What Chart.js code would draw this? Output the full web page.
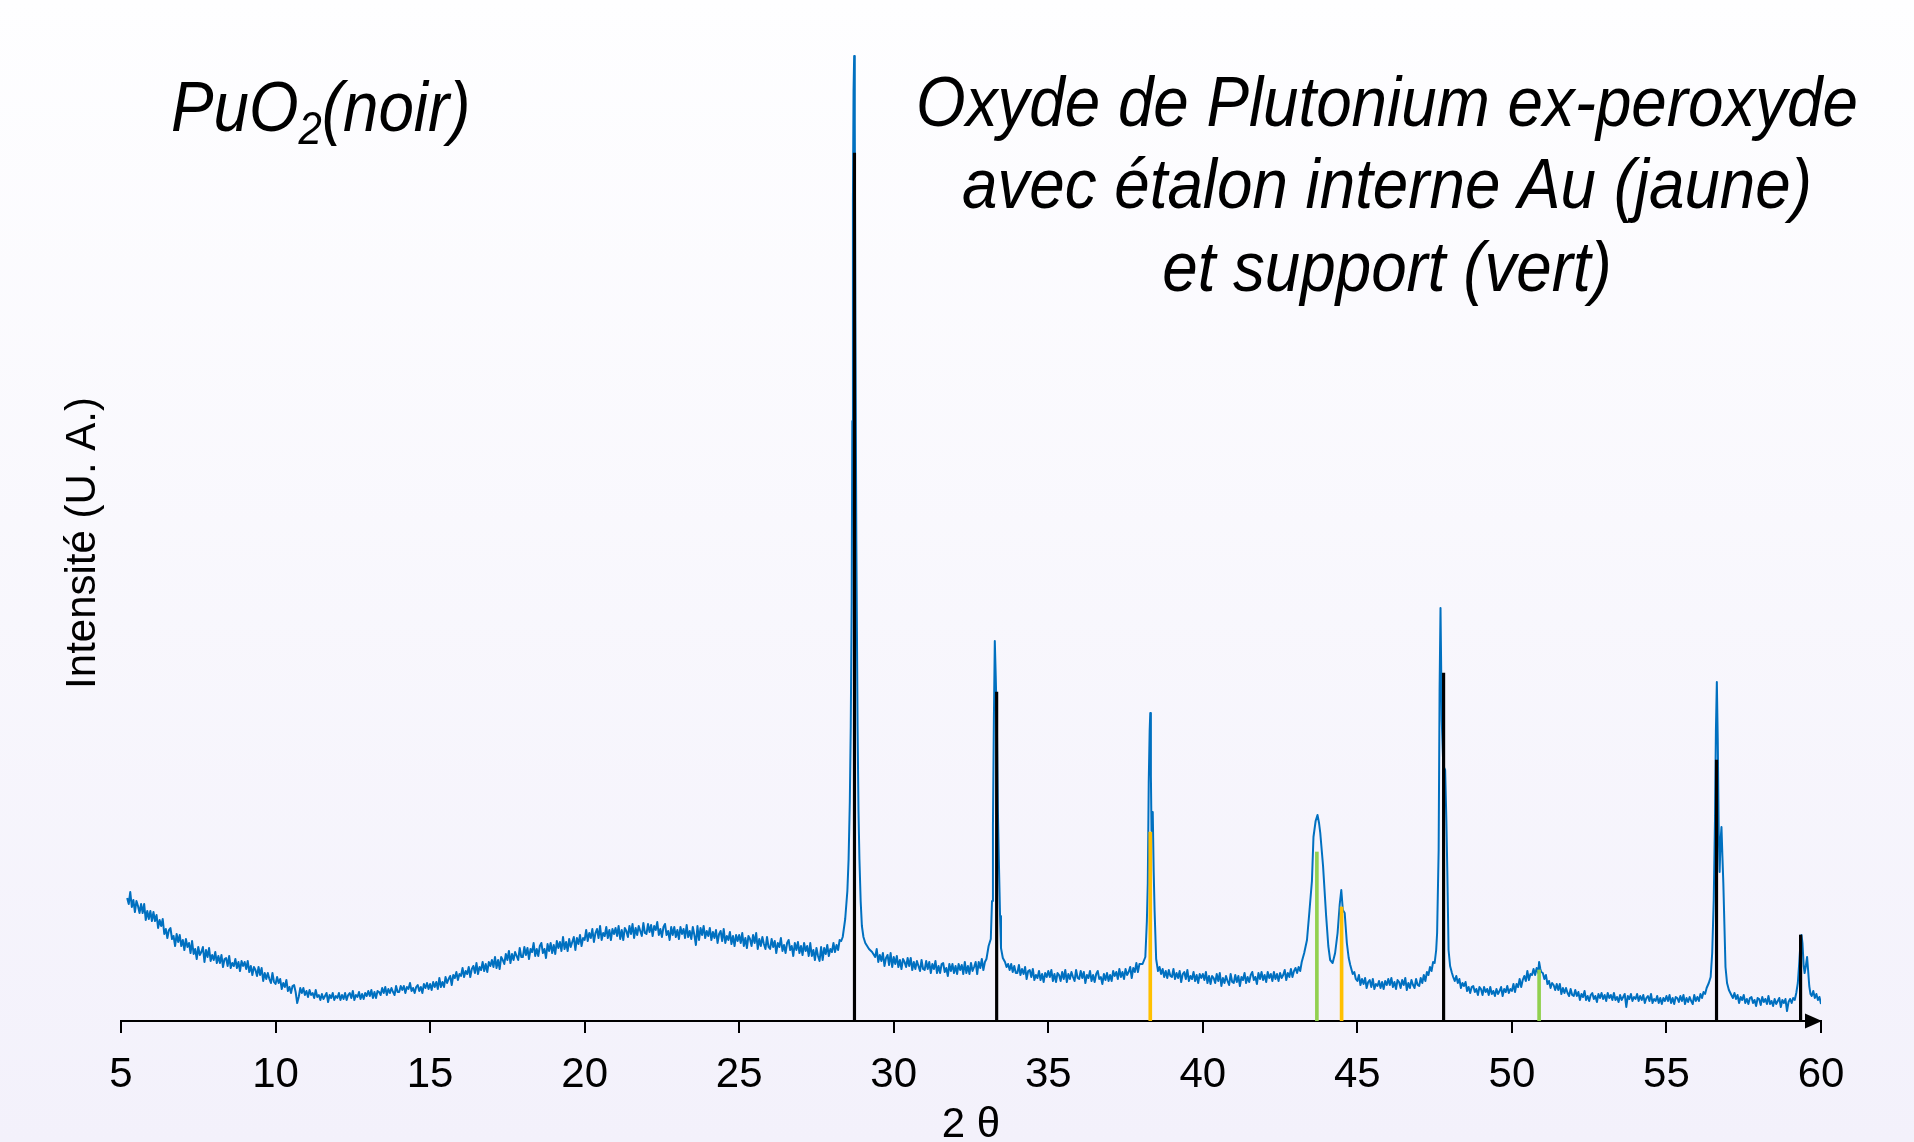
<!DOCTYPE html>
<html lang="fr">
<head>
<meta charset="utf-8">
<title>DRX PuO2 ex-peroxyde</title>
<script src="https://cdn.jsdelivr.net/npm/chart.js@4.4.1/dist/chart.umd.min.js"></script>
<style>
html,body{margin:0;padding:0;width:1914px;height:1142px;overflow:hidden;}
body{background:linear-gradient(to bottom,#fefeff 0%,#f3f1fb 100%);}
canvas{display:block;}
</style>
</head>
<body>
<canvas id="drx" width="1914" height="1160"></canvas>
<script>
// 2 theta (degres)
const angle2theta=[
5.2,5.25,5.3,5.35,5.4,5.45,5.5,5.55,5.6,5.65,5.7,5.75,5.8,5.85,5.9,5.95,
6,6.05,6.1,6.15,6.2,6.25,6.3,6.35,6.4,6.45,6.5,6.55,6.6,6.65,6.7,6.75,6.8,6.85,6.9,6.95,
7,7.05,7.1,7.15,7.2,7.25,7.3,7.35,7.4,7.45,7.5,7.55,7.6,7.65,7.7,7.75,7.8,7.85,7.9,7.95,
8,8.05,8.1,8.15,8.2,8.25,8.3,8.35,8.4,8.45,8.5,8.55,8.6,8.65,8.7,8.75,8.8,8.85,8.9,8.95,
9,9.05,9.1,9.15,9.2,9.25,9.3,9.35,9.4,9.45,9.5,9.55,9.6,9.65,9.7,9.75,9.8,9.85,9.9,9.95,
10,10.05,10.1,10.15,10.2,10.25,10.3,10.35,10.4,10.45,10.5,10.55,10.6,10.65,10.7,10.75,10.8,10.85,10.9,10.95,
11,11.05,11.1,11.15,11.2,11.25,11.3,11.35,11.4,11.45,11.5,11.55,11.6,11.65,11.7,11.75,11.8,11.85,11.9,11.95,
12,12.05,12.1,12.15,12.2,12.25,12.3,12.35,12.4,12.45,12.5,12.55,12.6,12.65,12.7,12.75,12.8,12.85,12.9,12.95,
13,13.05,13.1,13.15,13.2,13.25,13.3,13.35,13.4,13.45,13.5,13.55,13.6,13.65,13.7,13.75,13.8,13.85,13.9,13.95,
14,14.05,14.1,14.15,14.2,14.25,14.3,14.35,14.4,14.45,14.5,14.55,14.6,14.65,14.7,14.75,14.8,14.85,14.9,14.95,
15,15.05,15.1,15.15,15.2,15.25,15.3,15.35,15.4,15.45,15.5,15.55,15.6,15.65,15.7,15.75,15.8,15.85,15.9,15.95,
16,16.05,16.1,16.15,16.2,16.25,16.3,16.35,16.4,16.45,16.5,16.55,16.6,16.65,16.7,16.75,16.8,16.85,16.9,16.95,
17,17.05,17.1,17.15,17.2,17.25,17.3,17.35,17.4,17.45,17.5,17.55,17.6,17.65,17.7,17.75,17.8,17.85,17.9,17.95,
18,18.05,18.1,18.15,18.2,18.25,18.3,18.35,18.4,18.45,18.5,18.55,18.6,18.65,18.7,18.75,18.8,18.85,18.9,18.95,
19,19.05,19.1,19.15,19.2,19.25,19.3,19.35,19.4,19.45,19.5,19.55,19.6,19.65,19.7,19.75,19.8,19.85,19.9,19.95,
20,20.05,20.1,20.15,20.2,20.25,20.3,20.35,20.4,20.45,20.5,20.55,20.6,20.65,20.7,20.75,20.8,20.85,20.9,20.95,
21,21.05,21.1,21.15,21.2,21.25,21.3,21.35,21.4,21.45,21.5,21.55,21.6,21.65,21.7,21.75,21.8,21.85,21.9,21.95,
22,22.05,22.1,22.15,22.2,22.25,22.3,22.35,22.4,22.45,22.5,22.55,22.6,22.65,22.7,22.75,22.8,22.85,22.9,22.95,
23,23.05,23.1,23.15,23.2,23.25,23.3,23.35,23.4,23.45,23.5,23.55,23.6,23.65,23.7,23.75,23.8,23.85,23.9,23.95,
24,24.05,24.1,24.15,24.2,24.25,24.3,24.35,24.4,24.45,24.5,24.55,24.6,24.65,24.7,24.75,24.8,24.85,24.9,24.95,
25,25.05,25.1,25.15,25.2,25.25,25.3,25.35,25.4,25.45,25.5,25.55,25.6,25.65,25.7,25.75,25.8,25.85,25.9,25.95,
26,26.05,26.1,26.15,26.2,26.25,26.3,26.35,26.4,26.45,26.5,26.55,26.6,26.65,26.7,26.75,26.8,26.85,26.9,26.95,
27,27.05,27.1,27.15,27.2,27.25,27.3,27.35,27.4,27.45,27.5,27.55,27.6,27.65,27.7,27.75,27.8,27.85,27.9,27.95,
28,28.05,28.1,28.15,28.2,28.25,28.3,28.35,28.43,28.5,28.54,28.58,28.61,28.64,28.66,28.68,28.7,28.72,28.74,28.76,28.79,28.83,28.86,28.89,28.93,28.97,
29.02,29.08,29.14,29.2,29.3,29.4,29.45,29.5,29.55,29.6,29.65,29.7,29.75,29.8,29.85,29.9,29.95,
30,30.05,30.1,30.15,30.2,30.25,30.3,30.35,30.4,30.45,30.5,30.55,30.6,30.65,30.7,30.75,30.8,30.85,30.9,30.95,
31,31.05,31.1,31.15,31.2,31.25,31.3,31.35,31.4,31.45,31.5,31.55,31.6,31.65,31.7,31.75,31.8,31.85,31.9,31.95,
32,32.05,32.1,32.15,32.2,32.25,32.3,32.35,32.4,32.45,32.5,32.55,32.6,32.65,32.7,32.75,32.8,32.85,32.9,32.95,
33,33.07,33.14,33.18,33.21,33.24,33.27,33.3,33.34,33.37,33.4,33.44,33.47,33.53,33.6,33.65,33.7,33.75,33.8,33.85,33.9,33.95,
34,34.05,34.1,34.15,34.2,34.25,34.3,34.35,34.4,34.45,34.5,34.55,34.6,34.65,34.7,34.75,34.8,34.85,34.9,34.95,
35,35.05,35.1,35.15,35.2,35.25,35.3,35.35,35.4,35.45,35.5,35.55,35.6,35.65,35.7,35.75,35.8,35.85,35.9,35.95,
36,36.05,36.1,36.15,36.2,36.25,36.3,36.35,36.4,36.45,36.5,36.55,36.6,36.65,36.7,36.75,36.8,36.85,36.9,36.95,
37,37.05,37.1,37.15,37.2,37.25,37.3,37.35,37.4,37.45,37.5,37.55,37.6,37.65,37.7,37.75,37.8,37.85,37.9,37.95,
38.05,38.14,38.19,38.22,38.25,38.28,38.3,38.32,38.34,38.36,38.38,38.41,38.44,38.49,38.55,38.6,38.65,38.7,38.75,38.8,38.85,38.9,38.95,
39,39.05,39.1,39.15,39.2,39.25,39.3,39.35,39.4,39.45,39.5,39.55,39.6,39.65,39.7,39.75,39.8,39.85,39.9,39.95,
40,40.05,40.1,40.15,40.2,40.25,40.3,40.35,40.4,40.45,40.5,40.55,40.6,40.65,40.7,40.75,40.8,40.85,40.9,40.95,
41,41.05,41.1,41.15,41.2,41.25,41.3,41.35,41.4,41.45,41.5,41.55,41.6,41.65,41.7,41.75,41.8,41.85,41.9,41.95,
42,42.05,42.1,42.15,42.2,42.25,42.3,42.35,42.4,42.45,42.5,42.55,42.6,42.65,42.7,42.75,42.8,42.85,42.9,42.95,
43,43.05,43.1,43.15,43.2,43.28,43.37,43.45,43.53,43.58,43.65,43.71,43.76,43.8,43.89,43.99,
44.06,44.12,44.2,44.28,44.36,44.43,44.48,44.53,44.59,44.66,44.72,44.77,44.85,44.9,44.95,
45,45.05,45.1,45.15,45.2,45.25,45.3,45.35,45.4,45.45,45.5,45.55,45.6,45.65,45.7,45.75,45.8,45.85,45.9,45.95,
46,46.05,46.1,46.15,46.2,46.25,46.3,46.35,46.4,46.45,46.5,46.55,46.6,46.65,46.7,46.75,46.8,46.85,46.9,46.95,
47,47.05,47.1,47.15,47.2,47.25,47.3,47.35,47.4,47.45,47.5,47.55,47.58,47.63,47.66,47.69,47.73,47.78,47.84,47.88,47.91,47.95,
48,48.06,48.1,48.15,48.2,48.25,48.3,48.35,48.4,48.45,48.5,48.55,48.6,48.65,48.7,48.75,48.8,48.85,48.9,48.95,
49,49.05,49.1,49.15,49.2,49.25,49.3,49.35,49.4,49.45,49.5,49.55,49.6,49.65,49.7,49.75,49.8,49.85,49.9,49.95,
50,50.05,50.1,50.15,50.2,50.25,50.3,50.35,50.4,50.45,50.5,50.55,50.6,50.65,50.7,50.75,50.8,50.85,50.88,50.92,50.95,
51,51.05,51.1,51.15,51.2,51.25,51.3,51.35,51.4,51.45,51.5,51.55,51.6,51.65,51.7,51.75,51.8,51.85,51.9,51.95,
52,52.05,52.1,52.15,52.2,52.25,52.3,52.35,52.4,52.45,52.5,52.55,52.6,52.65,52.7,52.75,52.8,52.85,52.9,52.95,
53,53.05,53.1,53.15,53.2,53.25,53.3,53.35,53.4,53.45,53.5,53.55,53.6,53.65,53.7,53.75,53.8,53.85,53.9,53.95,
54,54.05,54.1,54.15,54.2,54.25,54.3,54.35,54.4,54.45,54.5,54.55,54.6,54.65,54.7,54.75,54.8,54.85,54.9,54.95,
55,55.05,55.1,55.15,55.2,55.25,55.3,55.35,55.4,55.45,55.5,55.55,55.6,55.65,55.7,55.75,55.8,55.85,55.9,55.95,
56,56.05,56.1,56.15,56.2,56.25,56.3,56.37,56.43,56.48,56.53,56.57,56.6,56.63,56.66,56.69,56.72,56.75,56.78,56.81,56.84,56.88,56.91,56.96,
57.02,57.1,57.15,57.2,57.25,57.3,57.35,57.4,57.45,57.5,57.55,57.6,57.65,57.7,57.75,57.8,57.85,57.9,57.95,
58,58.05,58.1,58.15,58.2,58.25,58.3,58.35,58.4,58.45,58.5,58.55,58.6,58.65,58.7,58.75,58.8,58.85,58.9,58.95,
59,59.05,59.1,59.15,59.2,59.25,59.3,59.34,59.37,59.4,59.44,59.47,59.51,59.55,59.58,59.62,59.66,59.7,59.75,59.8,59.85,59.9,59.95,60
];

// intensite mesuree (U. A.)
const intensite=[
123,117,129,114,121,109,120,115,108,117,108,117,101,110,102,110,
100,109,100,106,93,101,95,102,87,92,83,91,93,82,85,75,87,79,86,75,
81,71,82,74,78,68,80,67,72,62,74,66,69,74,59,71,64,73,60,66,
61,69,58,65,58,66,54,62,63,55,65,53,58,55,62,53,59,50,60,55,
59,52,60,49,55,46,54,51,45,54,46,53,40,48,42,48,42,38,48,39,
37,44,38,42,32,38,34,41,30,34,28,35,36,29,18,24,33,28,33,26,
30,24,31,26,28,23,31,24,26,21,27,22,25,28,19,26,23,28,21,25,
23,28,21,26,22,28,21,26,28,23,30,21,26,24,29,22,27,22,28,25,
30,25,31,23,29,23,30,29,26,33,28,34,26,32,28,33,29,26,35,29,
29,35,31,35,28,34,32,38,30,33,28,34,36,30,34,28,37,33,38,32,
37,31,39,34,39,32,43,34,39,34,44,38,42,45,36,46,43,49,41,47,
45,53,44,50,47,54,44,52,55,48,58,47,54,51,59,50,57,49,59,55,
61,54,64,53,61,52,64,61,57,67,61,70,58,67,61,69,65,61,73,64,
64,74,66,73,62,72,69,78,65,72,65,75,78,68,72,63,77,70,78,68,
76,67,80,73,79,70,84,72,79,70,82,74,79,84,71,83,77,86,75,83,
81,91,80,88,83,92,79,88,92,83,95,81,88,85,94,83,91,81,92,87,
93,85,95,82,91,81,93,90,84,95,87,97,83,93,86,95,90,85,98,88,
87,97,89,96,85,95,91,99,86,92,84,94,97,86,90,81,94,86,94,84,
91,82,94,87,92,83,96,84,90,82,94,86,76,95,81,93,86,95,83,90,
85,93,81,89,83,91,78,87,90,80,92,78,85,81,89,77,85,75,86,80,
86,78,88,75,83,73,85,82,75,86,78,88,72,82,75,84,77,72,84,74,
72,82,74,80,68,78,74,83,70,76,68,78,81,71,75,65,78,71,79,68,
75,66,78,70,75,65,78,65,71,61,73,65,60,74,61,73,67,76,65,72,
69,78,69,76,71,81,80,84,102,130,162,220,295,420,600,820,930,965,900,700,480,295,210,162,120,95,
84,78,75,72,69,64,72,59,66,60,68,55,63,66,56,68,54,
64,57,65,54,61,52,62,59,54,63,55,63,51,59,52,60,55,50,61,52,
51,60,52,59,48,57,52,60,48,55,48,57,58,49,53,45,57,50,57,48,
55,47,57,51,56,47,59,48,55,47,58,50,54,59,47,59,53,62,51,59,
62,75,82,120,195,300,380,345,290,210,162,105,73,63,59,54,57,51,57,49,55,48,
48,56,46,52,47,54,42,50,51,44,52,41,46,43,50,41,47,39,48,44,
50,44,51,40,47,39,48,46,40,49,42,51,39,47,42,49,44,40,51,43,
42,50,43,49,38,46,43,50,40,46,39,47,50,42,44,37,47,41,48,40,
46,40,50,45,49,42,52,44,49,42,52,46,49,54,43,53,49,58,49,57,
57,64,100,138,238,290,308,245,190,200,209,150,110,62,50,54,47,52,44,50,43,51,45,
44,52,42,48,43,50,39,47,49,42,51,40,45,42,49,40,46,38,47,43,
47,41,49,38,45,37,45,43,38,47,40,48,35,43,38,45,40,36,47,39,
38,46,39,45,35,44,41,48,38,44,39,46,49,41,44,37,48,42,49,41,
46,39,49,43,47,40,49,42,47,40,48,43,46,51,41,48,44,52,44,50,
53,48,54,50,59,68,81,110,140,184,200,206,198,188,155,105,
75,61,58,68,88,117,131,111,108,78,63,56,47,49,42,
40,46,36,42,37,43,33,39,41,34,42,32,37,35,40,33,39,32,40,36,
42,36,43,34,39,32,41,39,33,41,36,43,31,38,33,41,36,33,42,36,
35,43,38,46,40,49,46,54,50,59,58,71,88,171,330,413,300,255,251,200,150,71,
55,48,44,40,45,38,42,33,38,35,39,30,34,28,34,35,29,32,26,34,
32,26,34,29,32,26,34,27,30,25,32,27,30,34,25,32,29,35,28,32,
30,37,29,37,34,42,34,41,45,40,50,41,47,46,52,46,53,48,59,52,49,
48,42,46,37,40,33,38,36,31,37,31,37,27,33,28,33,28,25,32,26,
25,31,25,29,21,27,24,30,21,25,20,26,28,22,25,19,27,23,28,22,
26,20,28,23,26,21,28,21,24,19,26,21,24,27,14,25,22,27,20,24,
22,27,20,25,21,26,18,23,25,20,27,18,22,20,25,18,23,17,23,20,
25,20,26,18,23,17,24,23,19,25,20,26,17,23,19,24,20,17,26,20,
24,20,27,23,29,27,33,38,44,68,121,200,290,339,280,190,149,180,194,165,138,90,54,38,
31,26,23,28,22,26,18,24,21,26,18,22,17,23,24,18,21,15,23,
22,16,24,19,22,17,25,17,20,15,22,17,20,23,14,21,18,22,10,19,
22,18,23,21,28,38,60,80,86,78,55,48,55,64,52,35,27,25,30,23,27,21,24,17
];

// raies de reference
const puo2Pos=[28.73,33.33,47.79,56.62,59.34];
const puo2Int=[868,329,348,261,86];
const auPos=[38.30,44.49];
const auInt=[189,114];
const supportPos=[43.69,50.88];
const supportInt=[169,51];

const graduations=[5,10,15,20,25,30,35,40,45,50,55,60];
const titreGauche=["PuO","2","(noir)"];
const titreDroite=["Oxyde de Plutonium ex-peroxyde","avec étalon interne Au (jaune)","et support (vert)"];
const titreY="Intensité (U. A.)";
const titreX="2 θ";

if(angle2theta.length!==intensite.length) console.error("longueurs", angle2theta.length, intensite.length);

const police='"Liberation Sans", Arial, Helvetica, sans-serif';

function raies(pos,val){
    return pos.map((p,i)=>({x:p,y:val[i]}));
}

// textes libres + fleche de l'axe
const decor={
    id:"decor",
    afterDraw(chart){
        const ctx=chart.ctx;
        const sx=chart.scales.x;
        ctx.save();
        ctx.fillStyle="#000";

        // fleche au bout de l'axe
        const xe=sx.getPixelForValue(60);
        const ya=sx.top;
        ctx.beginPath();
        ctx.moveTo(xe-16,ya-7.5);
        ctx.lineTo(xe+1,ya);
        ctx.lineTo(xe-16,ya+7.5);
        ctx.closePath();
        ctx.fill();

        // PuO2(noir)
        ctx.save();
        ctx.translate(171,131);
        ctx.scale(0.91,1);
        ctx.textBaseline="alphabetic";
        ctx.textAlign="left";
        let x=0;
        ctx.font="italic 70px "+police;
        ctx.fillText(titreGauche[0],x,0);
        x+=ctx.measureText(titreGauche[0]).width;
        ctx.font="italic 46px "+police;
        ctx.fillText(titreGauche[1],x,13);
        x+=ctx.measureText(titreGauche[1]).width;
        ctx.font="italic 70px "+police;
        ctx.fillText(titreGauche[2],x,0);
        ctx.restore();

        // titre de droite
        const lignes=[126,208,291];
        ctx.font="italic 70px "+police;
        ctx.textAlign="center";
        ctx.textBaseline="alphabetic";
        for(let i=0;i<titreDroite.length;i++){
            ctx.save();
            ctx.translate(1387,lignes[i]);
            ctx.scale(0.91,1);
            ctx.fillText(titreDroite[i],0,0);
            ctx.restore();
        }

        // titre vertical
        ctx.save();
        ctx.translate(95,543);
        ctx.rotate(-Math.PI/2);
        ctx.font="42px "+police;
        ctx.textAlign="center";
        ctx.fillText(titreY,0,0);
        ctx.restore();

        ctx.restore();
    }
};

const chart=new Chart(document.getElementById("drx"),{
    type:"line",
    data:{
        datasets:[
            {
                type:"bar",
                label:"PuO2",
                data:raies(puo2Pos,puo2Int),
                backgroundColor:"#000000",
                barThickness:2.5,
                grouped:false,
                order:0
            },
            {
                type:"bar",
                label:"Au",
                data:raies(auPos,auInt),
                backgroundColor:"#ffc000",
                barThickness:3,
                grouped:false,
                order:0
            },
            {
                type:"bar",
                label:"support",
                data:raies(supportPos,supportInt),
                backgroundColor:"#92d050",
                barThickness:3,
                grouped:false,
                order:0
            },
            {
                label:"diffractogramme",
                data:angle2theta.map((a,i)=>({x:a,y:intensite[i]})),
                borderColor:"#0070c0",
                borderWidth:2,
                borderJoinStyle:"round",
                pointRadius:0,
                tension:0,
                fill:false,
                order:1
            }
        ]
    },
    options:{
        responsive:false,
        animation:false,
        devicePixelRatio:1,
        layout:{padding:{left:121,right:93,top:21,bottom:0}},
        plugins:{
            legend:{display:false},
            tooltip:{enabled:false}
        },
        scales:{
            x:{
                type:"linear",
                min:5,
                max:60,
                offset:false,
                afterBuildTicks:(s)=>{s.ticks=graduations.map(v=>({value:v}));},
                afterFit:(s)=>{s.height=139;},
                ticks:{
                    autoSkip:false,
                    maxRotation:0,
                    padding:17,
                    color:"#000",
                    font:{family:police,size:42}
                },
                grid:{
                    offset:false,
                    drawOnChartArea:false,
                    drawTicks:true,
                    tickLength:12,
                    color:"#000",
                    lineWidth:2
                },
                border:{display:true,color:"#000",width:2},
                title:{
                    display:true,
                    text:titreX,
                    color:"#000",
                    font:{family:police,size:42},
                    padding:{top:0,bottom:9}
                }
            },
            y:{
                type:"linear",
                display:false,
                min:0,
                max:1000
            }
        }
    },
    plugins:[decor]
});
</script>
</body>
</html>
